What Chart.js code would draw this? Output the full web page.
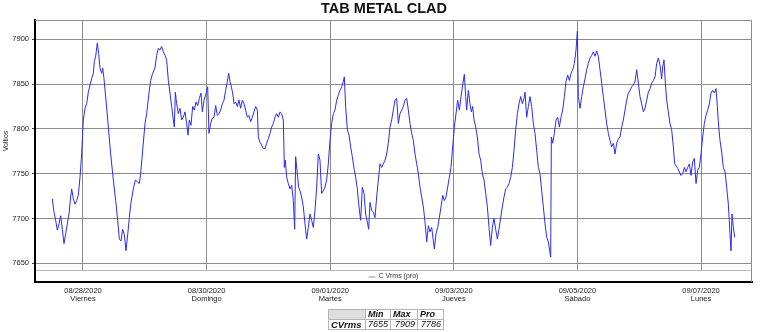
<!DOCTYPE html>
<html>
<head>
<meta charset="utf-8">
<script src="https://cdn.jsdelivr.net/npm/chart.js@4.4.0/dist/chart.umd.min.js"></script>
<style>
  html, body { margin: 0; padding: 0; background: #fff; }
  #wrap { position: relative; width: 762px; height: 332px; }
  #stats {
    position: absolute; left: 328px; top: 309px;
    border-collapse: collapse; table-layout: fixed;
    font-family: Arial, "Liberation Sans", sans-serif;
    font-style: italic; font-size: 9px; color: #111;
  }
  #stats td {
    border: 1px solid #b4b4b4; height: 9px; line-height: 9px;
    padding: 0 2px; text-align: right; overflow: hidden; white-space: nowrap;
  }
  #stats td.h { font-weight: bold; text-align: left; }
  #stats td.vac { background: #dedede; }
  #stats td.serie { font-weight: bold; font-size: 9.5px; text-align: left; }
</style>
</head>
<body>
<div id="wrap">
  <canvas id="chart" width="762" height="332"></canvas>
  <table id="stats"></table>
</div>
<script>
// ── DATOS ────────────────────────────────────────────────────────────────────

// horas desde 08/27/2020 00:00
const horas = [
  12.09, 12.74, 13.38, 14.03, 14.68, 15.33, 15.97, 16.62, 17.27, 17.91, 18.56, 19.21, 19.60, 20.24, 20.89, 21.54,
  22.19, 22.83, 23.48, 24.13, 24.78, 25.42, 26.07, 26.72, 27.36, 28.01, 28.40, 28.92, 29.57, 30.08, 30.60, 31.25,
  31.64, 32.15, 32.93, 33.84, 34.74, 35.78, 36.69, 37.46, 38.11, 38.76, 39.40, 40.05, 40.70, 41.35, 41.99, 42.64,
  43.55, 44.32, 45.10, 45.88, 46.39, 47.17, 48.08, 48.72, 49.63, 50.28, 51.05, 51.96, 52.61, 53.25, 53.90, 54.55,
  55.20, 55.84,
  56.49, 57.14, 57.78, 58.43, 59.08, 59.47, 59.85, 60.37, 61.02, 61.67, 62.31, 62.96, 63.61, 64.26, 64.77, 65.29,
  65.94, 66.59, 67.23, 67.88, 68.53, 69.18, 69.82, 70.34, 70.99, 71.63, 72.41, 72.93, 73.58, 74.22, 74.87, 75.52,
  76.17, 76.81, 77.46, 78.11, 78.75, 79.40, 80.05, 80.57, 81.08, 81.60, 82.12, 82.64, 83.29, 83.93, 84.58, 85.23,
  85.87, 86.52, 87.17, 87.82, 88.46, 89.11, 89.76, 90.40, 91.05, 91.70, 92.09, 92.73, 93.38, 94.03, 94.68, 95.32,
  95.97, 96.62, 97.27, 97.91, 98.56, 99.21, 99.85, 100.50, 101.15, 101.80, 102.19,
  102.57, 103.09, 103.74, 104.38, 105.03, 105.68, 106.20, 106.58, 107.23, 107.75, 108.27, 108.91, 109.56, 110.21,
  110.86, 111.50, 112.15, 112.80, 113.45, 114.09, 114.74, 115.39, 116.03, 116.68, 117.33, 117.98, 118.62, 119.27,
  119.92, 120.56, 121.21, 121.86, 122.51, 123.15, 123.80, 124.45, 125.10, 125.48, 126.00, 126.65, 127.30, 127.94,
  128.59, 129.24, 129.89, 130.53, 131.18, 131.83, 132.47, 133.12, 133.77, 134.42, 134.93, 135.45, 136.10, 136.75,
  137.39, 138.04, 138.69, 139.34, 139.98, 140.63, 141.28, 141.92, 142.57, 143.22, 143.87, 144.51, 145.16, 145.81,
  146.46, 147.10, 147.75, 148.40,
  149.05, 149.70, 150.35, 150.99, 151.64, 152.29, 152.94, 153.58, 154.23, 154.88, 155.52, 156.17, 156.82, 157.47,
  158.11, 158.76, 159.41, 160.06, 160.44, 161.09, 161.74, 162.39, 163.03, 163.68, 164.33, 164.97, 165.62, 166.27,
  166.92, 167.56, 168.21, 168.86, 169.50, 170.15, 170.80, 171.45, 172.09, 172.61, 173.00, 173.65, 174.29, 174.81,
  175.33, 175.85, 176.50, 177.14, 177.79, 178.44, 179.08, 179.73, 180.38, 181.03, 181.67, 182.32, 182.97, 183.62,
  184.26, 184.91, 185.56, 186.20, 186.85, 187.50, 188.15, 188.79, 189.44, 190.09, 190.74, 191.38, 192.03, 192.68,
  193.33, 193.97, 194.62, 195.27,
  195.65, 196.30, 196.95, 197.59, 198.24, 198.89, 199.54, 200.18, 200.83, 201.48, 202.12, 202.77, 203.42, 204.07,
  204.71, 205.23, 205.62, 205.88, 206.40, 207.04, 207.69, 208.34, 208.99, 209.63, 210.28, 210.93, 211.57, 212.22,
  212.87, 213.52, 214.16, 214.81, 215.46, 215.98, 216.36, 217.01, 217.66, 218.31, 218.95, 219.60, 220.25, 220.89,
  221.54, 222.19, 222.84, 223.48, 224.13, 224.78, 225.43, 226.07, 226.72, 227.37, 228.01, 228.66, 229.31, 229.96,
  230.60, 231.25, 231.90, 232.54, 233.19, 233.84, 234.49, 235.13, 235.78, 236.43, 237.08, 237.72, 238.37, 239.02,
  239.67, 240.31, 240.96, 241.61, 242.25,
  242.90, 243.55, 244.19, 244.84, 245.49, 246.14, 246.78, 247.43, 248.08, 248.72, 249.11, 249.63, 250.15, 250.67,
  251.31, 251.96, 252.61, 253.25, 253.77, 254.29, 254.94, 255.59, 256.23, 256.88, 257.53, 258.17, 258.82, 259.47,
  260.12, 260.76, 261.41, 262.06, 262.71, 263.35, 264.00, 264.65, 265.29, 265.94, 266.59, 267.24, 267.88, 268.53,
  269.18, 269.83, 270.34, 270.86, 271.38, 272.03, 272.67, 273.32, 273.97, 274.61, 275.26, 275.65, 276.04, 276.56,
  277.07
]

// C Vrms (pro), voltios
const voltios = [
  7722, 7707, 7698, 7687, 7694, 7703, 7688, 7672, 7683, 7694, 7705, 7724, 7733, 7722, 7716, 7720,
  7726, 7746, 7772, 7810, 7823, 7828, 7841, 7849, 7856, 7862, 7875, 7881, 7896, 7884, 7868, 7862,
  7868, 7856, 7832, 7802, 7772, 7743, 7720, 7698, 7677, 7675, 7688, 7682, 7664, 7682, 7701, 7718,
  7733, 7743, 7741, 7739, 7750, 7776, 7806, 7817, 7840, 7854, 7862, 7868, 7882, 7890, 7888, 7892,
  7886, 7882,
  7877, 7854, 7840, 7825, 7810, 7802, 7841, 7828, 7817, 7823, 7810, 7813, 7819, 7806, 7793, 7810,
  7804, 7825, 7821, 7830, 7826, 7834, 7840, 7819, 7832, 7838, 7847, 7795, 7806, 7812, 7813, 7826,
  7815, 7817, 7821, 7828, 7832, 7843, 7853, 7862, 7853, 7847, 7840, 7828, 7830, 7825, 7832, 7823,
  7832, 7828, 7821, 7813, 7815, 7808, 7813, 7819, 7825, 7821, 7791, 7785, 7782, 7778, 7778, 7784,
  7789, 7795, 7802, 7806, 7813, 7817, 7813, 7819, 7817, 7810, 7757,
  7765, 7746, 7739, 7733, 7737, 7720, 7688, 7769, 7750, 7735, 7731, 7724, 7713, 7694,
  7677, 7690, 7705, 7698, 7690, 7709, 7735, 7772, 7765, 7728, 7731, 7735, 7743, 7761,
  7787, 7806, 7817, 7821, 7832, 7838, 7843, 7847, 7853, 7858, 7825, 7799, 7793, 7780,
  7769, 7756, 7746, 7733, 7713, 7698, 7735, 7728, 7705, 7696, 7688, 7718, 7709, 7707,
  7701, 7724, 7743, 7761, 7757, 7761, 7765, 7772, 7784, 7802, 7810, 7821, 7832, 7834,
  7806, 7817, 7821, 7825,
  7832, 7834, 7821, 7806, 7795, 7787, 7772, 7761, 7750, 7735, 7724, 7713, 7696, 7674,
  7692, 7685, 7690, 7675, 7666, 7683, 7690, 7701, 7713, 7726, 7720, 7724, 7735, 7746,
  7757, 7780, 7802, 7817, 7832, 7821, 7836, 7849, 7861, 7836, 7821, 7843, 7828, 7819,
  7825, 7810, 7802, 7791, 7772, 7765, 7750, 7743, 7728, 7713, 7690, 7670, 7690, 7700,
  7688, 7677, 7688, 7701, 7713, 7724, 7733, 7735, 7739, 7746, 7757, 7776, 7799, 7817,
  7828, 7836, 7828, 7834,
  7841, 7813, 7825, 7836, 7825, 7806, 7795, 7776, 7757, 7750, 7731, 7713, 7694, 7679,
  7674, 7664, 7657, 7791, 7784, 7795, 7810, 7813, 7802, 7813, 7821, 7836, 7853, 7860,
  7854, 7862, 7866, 7873, 7888, 7909, 7836, 7823, 7836, 7847, 7856, 7866, 7873, 7879,
  7882, 7886, 7881, 7887, 7881, 7866, 7851, 7836, 7821, 7806, 7795, 7787, 7780, 7784,
  7772, 7784, 7789, 7791, 7802, 7810, 7821, 7832, 7840, 7843, 7847, 7849, 7853, 7866,
  7851, 7836, 7828, 7819, 7823,
  7832, 7841, 7845, 7851, 7854, 7858, 7873, 7879, 7871, 7856, 7869, 7877, 7851, 7832,
  7819, 7806, 7799, 7780, 7761, 7759, 7756, 7752, 7748, 7750, 7757, 7752, 7757, 7761,
  7748, 7763, 7767, 7739, 7754, 7757, 7772, 7791, 7806, 7815, 7821, 7828, 7840, 7843,
  7840, 7845, 7825, 7802, 7787, 7774, 7757, 7752, 7735, 7716, 7683, 7664, 7705, 7690,
  7679
]

const horasTicks = [24, 72, 120, 168, 216, 264]
const fechas = ['08/28/2020', '08/30/2020', '09/01/2020', '09/03/2020', '09/05/2020', '09/07/2020']
const dias = ['Viernes', 'Domingo', 'Martes', 'Jueves', 'Sábado', 'Lunes']
const voltiosTicks = [7650, 7700, 7750, 7800, 7850, 7900]

const titulo = 'TAB METAL CLAD'
const tituloEje = 'Voltios'
const serie = 'C Vrms (pro)'
const resumenSerie = 'CVrms'
const resumenCols = ['Min', 'Max', 'Pro']
const resumenValores = [7655, 7909, 7786]

// ── ESTILO ───────────────────────────────────────────────────────────────────

const FONT = 'Arial, "Liberation Sans", sans-serif'
const AZUL = '#2b2bf2'
const GRIS = '#8c8c8c'

// ── TABLA RESUMEN ────────────────────────────────────────────────────────────

document.getElementById('stats').innerHTML = `
  <colgroup><col style="width:37px"><col style="width:25px"><col style="width:27px"><col style="width:26px"></colgroup>
  <tr><td class="vac"></td>${resumenCols.map(c => `<td class="h">${c}</td>`).join('')}</tr>
  <tr><td class="serie">${resumenSerie}</td>${resumenValores.map(v => `<td>${v}</td>`).join('')}</tr>
`

// ── PLUGINS ──────────────────────────────────────────────────────────────────

// franja de leyenda bajo el área de trazado + marco superior/derecho
const marco = {
  id: 'marco',
  beforeDatasetsDraw(chart) {
    const { ctx, chartArea: a } = chart
    const top = a.bottom - 12
    ctx.save()
    ctx.fillStyle = '#fff'
    ctx.fillRect(a.left + 1, top, a.right - a.left - 2, a.bottom - 1 - top)
    ctx.strokeStyle = '#b8b8b8'
    ctx.lineWidth = 1
    ctx.beginPath()
    ctx.moveTo(a.left + 1, top + 0.5)
    ctx.lineTo(a.right, top + 0.5)
    ctx.stroke()

    ctx.strokeStyle = GRIS
    ctx.beginPath()
    ctx.moveTo(a.left, a.top + 0.5)
    ctx.lineTo(a.right - 0.5, a.top + 0.5)
    ctx.lineTo(a.right - 0.5, a.bottom)
    ctx.stroke()

    ctx.font = '7px ' + FONT
    ctx.textBaseline = 'middle'
    ctx.fillStyle = '#333'
    const w = ctx.measureText(serie).width
    const cx = (a.left + a.right) / 2
    const y = top + 6.5
    const x0 = cx - (w + 10) / 2
    ctx.strokeStyle = '#8888cc'
    ctx.beginPath()
    ctx.moveTo(x0, y + 0.5)
    ctx.lineTo(x0 + 7, y + 0.5)
    ctx.stroke()
    ctx.fillText(serie, x0 + 10, y)
    ctx.restore()
  }
}

const encabezado = {
  id: 'encabezado',
  afterDraw(chart) {
    const { ctx } = chart
    ctx.save()
    ctx.font = 'bold 14.5px ' + FONT
    ctx.fillStyle = '#111'
    ctx.textAlign = 'center'
    ctx.textBaseline = 'middle'
    ctx.fillText(titulo, 384, 8.5)

    // título del eje Y, algo por encima del centro como en el original
    ctx.translate(6.5, 141)
    ctx.rotate(-Math.PI / 2)
    ctx.font = '7px ' + FONT
    ctx.fillStyle = '#222'
    ctx.fillText(tituloEje, 0, 0)
    ctx.restore()
  }
}

// ── GRÁFICO ──────────────────────────────────────────────────────────────────

new Chart(document.getElementById('chart'), {
  type: 'line',
  data: {
    datasets: [{
      label: serie,
      data: horas.map((h, i) => ({ x: h, y: voltios[i] })),
      borderColor: AZUL,
      borderWidth: 1,
      pointRadius: 0,
      tension: 0,
      fill: false
    }]
  },
  options: {
    responsive: false,
    animation: false,
    devicePixelRatio: 1,
    layout: { padding: { top: 20, right: 10, left: 0, bottom: 0 } },
    plugins: { legend: { display: false }, tooltip: { enabled: false } },
    scales: {
      x: {
        type: 'linear',
        min: 5.36,
        max: 283.8,
        afterBuildTicks: s => { s.ticks = horasTicks.map(v => ({ value: v })) },
        afterFit: s => { s.height = 50 },
        ticks: {
          autoSkip: false,
          maxRotation: 0,
          padding: 5,
          color: '#222',
          font: { family: FONT, size: 7.5, lineHeight: 1.1 },
          callback: (v, i) => [fechas[i], dias[i]]
        },
        grid: { color: GRIS, drawTicks: false },
        border: { color: '#000', width: 2 }
      },
      y: {
        min: 7629.15,
        max: 7921.5,
        afterBuildTicks: s => { s.ticks = voltiosTicks.map(v => ({ value: v })) },
        afterFit: s => { s.width = 35 },
        ticks: {
          padding: 3,
          color: '#222',
          font: { family: FONT, size: 7.5 },
          callback: v => String(v)
        },
        grid: { color: GRIS, tickLength: 3, tickColor: '#444' },
        border: { color: '#000', width: 2 }
      }
    }
  },
  plugins: [marco, encabezado]
})
</script>
</body>
</html>
